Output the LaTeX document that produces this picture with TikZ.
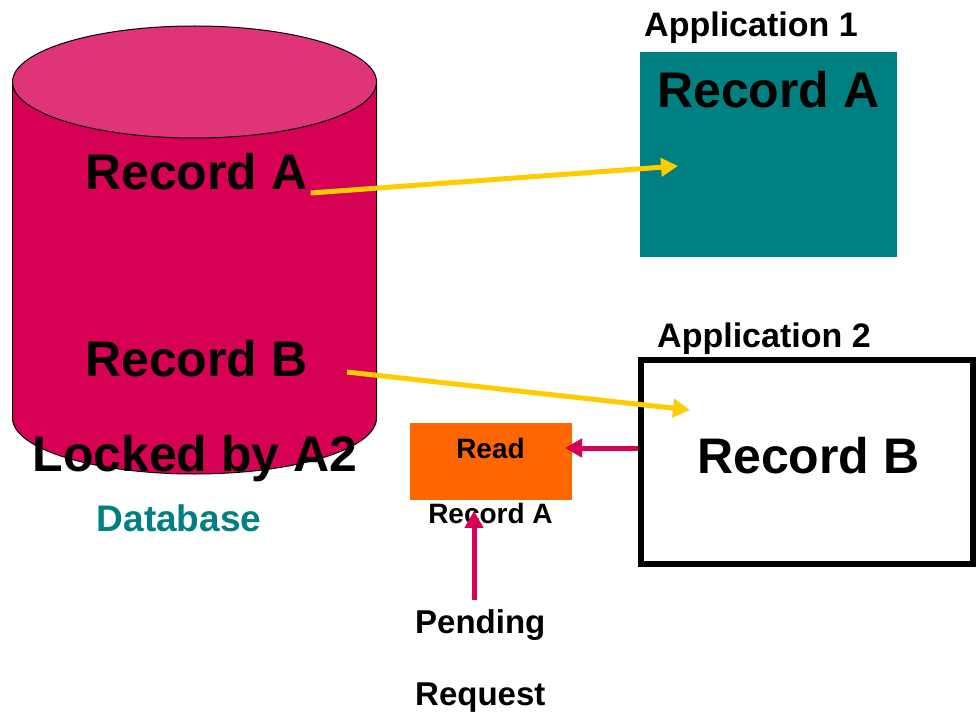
\documentclass[tikz,border=0pt]{standalone}
\usepackage{fontspec}
\setmainfont{Liberation Sans}
\usetikzlibrary{positioning, arrows.meta}

\definecolor{dbred}{RGB}{214,0,84}
\definecolor{dbtop}{RGB}{224,52,120}
\definecolor{appteal}{RGB}{0,128,128}
\definecolor{lockorange}{RGB}{255,102,0}
\definecolor{linkyellow}{RGB}{255,204,0}

\begin{document}
\begin{tikzpicture}[x=1pt, y=-1pt,
      big/.style={font=\fontsize{50}{60}\selectfont\bfseries, inner sep=0pt, anchor=base west},
      mid/.style={font=\fontsize{34}{40}\selectfont\bfseries, inner sep=0pt, anchor=base west},
      small/.style={font=\fontsize{28}{33}\selectfont\bfseries, inner sep=0pt, anchor=base},
      note/.style={font=\fontsize{33}{40}\selectfont\bfseries, inner sep=0pt, anchor=base west},
      link/.style={line width=5pt, linkyellow, -{Triangle[length=17pt, width=18pt]}},
      req/.style={line width=5pt, dbred, -{Triangle[length=17pt, width=18pt]}}]

    \useasboundingbox (0,0) rectangle (980,714);

    % database cylinder
    \filldraw[fill=dbred, draw=black, line width=1pt] (12.5,82) -- (12.5,418)
      arc[start angle=180, end angle=0, x radius=182, y radius=56] -- (376.5,82) -- cycle;
    \filldraw[fill=dbtop, draw=black, line width=1pt] (194.5,82) ellipse[x radius=182, y radius=56];

    \node[big] (dbA) at (85,190) {Record A};
    \node[big] (dbB) at (85,376) {Record B};
    \node[big, anchor=base] (lock) at (195,471) {Locked by A2};
    \node[font=\fontsize{37}{44}\selectfont\bfseries, text=appteal, inner sep=0pt, anchor=base] (db) at (179,531) {Database};

    % applications
    \node[fill=appteal, minimum width=257pt, minimum height=205pt, inner sep=0pt] (app1) at (768.5,154.5) {};
    \node[mid] (app1lbl) at (644,37) {Application 1};
    \node[big] (app1rec) at (657,108) {Record A};

    \node[draw, line width=6pt, minimum width=332pt, minimum height=204pt, inner sep=0pt] (app2) at (807,462) {};
    \node[mid] (app2lbl) at (657,347) {Application 2};
    \node[big] (app2rec) at (697,473) {Record B};

    % pending read
    \node[fill=lockorange, minimum width=162pt, minimum height=77pt, inner sep=0pt] (readbox) at (491,461.5) {};
    \node[small] (read) at (490.5,458) {Read};
    \node[small] (readrec) at (490.5,523) {Record A};
    \node[note] (pend) at (415,633) {Pending};
    \node[note] (reqst) at (415,705) {Request};

    \coordinate (a1in) at (678,166);
    \coordinate (dbBout) at (347,372);
    \coordinate (a2in) at (690,410);

    \draw[link] ([xshift=3pt, yshift=-3pt]dbA.base east) -- (a1in);
    \draw[link] (dbBout) -- (a2in);
    \draw[req] ([yshift=14pt]app2.west) -- ++(-73,0);
    \draw[req] ([xshift=59pt, yshift=9pt]pend.north west) -- ++(0,-89);
  \end{tikzpicture}
\end{document}
